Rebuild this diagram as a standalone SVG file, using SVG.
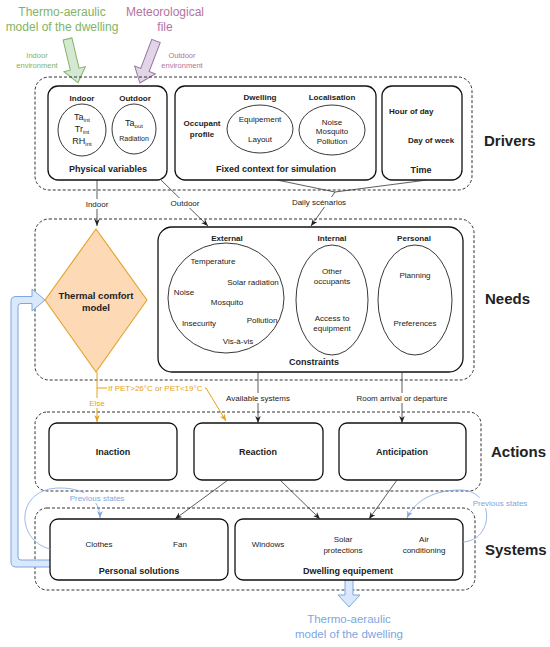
<svg xmlns="http://www.w3.org/2000/svg" width="550" height="647" viewBox="0 0 550 647">
<defs>
<style>
text{font-family:"Liberation Sans",Arial,sans-serif;fill:#222}
.b{font-weight:bold}
.m{text-anchor:middle}
.s8{font-size:8px}
.s7{font-size:7px}
.s9{font-size:9px}
.big{font-size:15px;font-weight:bold}
.cont{fill:none;stroke:#333;stroke-width:1;stroke-dasharray:3 2}
.box{fill:#fff;stroke:#111;stroke-width:1.3}
.ell{fill:#fff;stroke:#222;stroke-width:0.9}
.ln{fill:none;stroke:#333;stroke-width:0.8}
.or{fill:none;stroke:#e6a117;stroke-width:1}
.bl{fill:none;stroke:#7ea6e0;stroke-width:0.8}
.bg{fill:#fff}
</style>
<marker id="ah" viewBox="0 0 10 10" refX="10" refY="5" markerWidth="7" markerHeight="7" orient="auto" markerUnits="userSpaceOnUse"><path d="M0,1 L10,5 L0,9 L3,5 Z" fill="#222"/></marker>
<marker id="ao" viewBox="0 0 10 10" refX="10" refY="5" markerWidth="7" markerHeight="7" orient="auto" markerUnits="userSpaceOnUse"><path d="M0,1 L10,5 L0,9 L3,5 Z" fill="#e6a117"/></marker>
<marker id="ab" viewBox="0 0 10 10" refX="10" refY="5" markerWidth="7" markerHeight="7" orient="auto" markerUnits="userSpaceOnUse"><path d="M0,1 L10,5 L0,9 L3,5 Z" fill="#7ea6e0"/></marker>
</defs>
<rect width="550" height="647" fill="#fff"/>

<g id="inputs">
<text x="62" y="16" class="m" style="font-size:12px;fill:#82b366">Thermo-aeraulic</text>
<text x="62" y="31" class="m" style="font-size:12px;fill:#82b366">model of the dwelling</text>
<text x="165" y="16" class="m" style="font-size:12px;fill:#b5739d">Meteorological</text>
<text x="165" y="31" class="m" style="font-size:12px;fill:#b5739d">file</text>
<text x="37" y="57.5" class="m" style="font-size:7.5px;fill:#82b366">Indoor</text>
<text x="37" y="67.5" class="m" style="font-size:7.5px;fill:#82b366">environment</text>
<text x="182" y="57.5" class="m" style="font-size:7.5px;fill:#b5739d">Outdoor</text>
<text x="182" y="67.5" class="m" style="font-size:7.5px;fill:#b5739d">environment</text>
<polygon transform="translate(67.5,39) rotate(-13.4)" points="-4.5,0 4.5,0 4.5,31 11,31 0,45 -11,31 -4.5,31" fill="#d5e8d4" stroke="#82b366" stroke-width="1"/>
<polygon transform="translate(156,41) rotate(20.9)" points="-4.5,0 4.5,0 4.5,31 11,31 0,45 -11,31 -4.5,31" fill="#e1d5e7" stroke="#9673a6" stroke-width="1"/>
</g>

<g id="containers">
<rect class="cont" x="35" y="77" width="437" height="113" rx="14"/>
<rect class="cont" x="35" y="219" width="439" height="161" rx="14"/>
<rect class="cont" x="35" y="412" width="446" height="79" rx="12"/>
<rect class="cont" x="35" y="508" width="440" height="82" rx="12"/>
<text x="484" y="146" class="big">Drivers</text>
<text x="485" y="304" class="big">Needs</text>
<text x="491" y="457" class="big">Actions</text>
<text x="485" y="555" class="big">Systems</text>
</g>

<g id="feedback">
<path d="M55,560 L21,560 Q18,560 18,557 L18,306.5 Q18,303.5 21,303.5 L32,303.5 L32,311 L45,300 L32,289 L32,296.5 L16,296.5 Q11,296.5 11,301.5 L11,562 Q11,567 16,567 L55,567 Z" fill="#dae8fc" stroke="#7ea6e0" stroke-width="1"/>
<path d="M345,576 L345,595 L338,595 L349,607 L360,595 L353,595 L353,576 Z" fill="#dae8fc" stroke="#7ea6e0" stroke-width="1"/>
<text x="349" y="623" class="m" style="font-size:11.5px;fill:#7ea6e0">Thermo-aeraulic</text>
<text x="349" y="638" class="m" style="font-size:11.5px;fill:#7ea6e0">model of the dwelling</text>
</g>

<g id="physical">
<rect class="box" x="48" y="86" width="119" height="94" rx="10"/>
<text x="82" y="101" class="m b s8">Indoor</text>
<text x="135" y="101" class="m b s8">Outdoor</text>
<ellipse class="ell" cx="82" cy="130" rx="24" ry="26"/>
<ellipse class="ell" cx="134" cy="129" rx="22" ry="25"/>
<text x="82" y="120" class="m s9">Ta<tspan style="font-size:6px" dy="2">int</tspan></text>
<text x="82" y="132" class="m s9">Tr<tspan style="font-size:6px" dy="2">int</tspan></text>
<text x="82" y="144" class="m s9">RH<tspan style="font-size:6px" dy="2">int</tspan></text>
<text x="134" y="126" class="m s9">Ta<tspan style="font-size:6px" dy="2">out</tspan></text>
<text x="134" y="140.5" class="m s7">Radiation</text>
<text x="108" y="172" class="m b s9">Physical variables</text>
</g>

<g id="fixed">
<rect class="box" x="175" y="86" width="201" height="94" rx="10"/>
<text x="260" y="100" class="m b s8">Dwelling</text>
<text x="332" y="100" class="m b s8">Localisation</text>
<text x="202" y="126" class="m b s8">Occupant</text>
<text x="202" y="137" class="m b s8">profile</text>
<ellipse class="ell" cx="260" cy="129" rx="33" ry="24"/>
<text x="260" y="122" class="m s8">Equipement</text>
<text x="260" y="142" class="m s8">Layout</text>
<ellipse class="ell" cx="332" cy="130" rx="33" ry="25"/>
<text x="332" y="124.5" class="m s8">Noise</text>
<text x="332" y="134" class="m s8">Mosquito</text>
<text x="332" y="143.5" class="m s8">Pollution</text>
<text x="276" y="172" class="m b s9">Fixed context for simulation</text>
</g>

<g id="time">
<rect class="box" x="382" y="86" width="80" height="94" rx="10"/>
<text x="389" y="114" class="b s8">Hour of day</text>
<text x="408" y="143" class="b s8">Day of week</text>
<text x="421" y="173" class="m b s9">Time</text>
</g>

<g id="comfort">
<polygon points="96,229 147,300 96,372 45,300" fill="#fdd9b5" stroke="#e3a72f" stroke-width="1.2" stroke-linejoin="round"/>
<text x="96" y="299" class="m b" style="font-size:9.5px">Thermal comfort</text>
<text x="96" y="310.5" class="m b" style="font-size:9.5px">model</text>
</g>

<g id="constraints">
<rect class="box" x="158" y="227" width="305" height="145" rx="14"/>
<text x="227" y="241" class="m b s8">External</text>
<text x="332" y="241" class="m b s8">Internal</text>
<text x="414" y="241" class="m b s8">Personal</text>
<ellipse class="ell" cx="226" cy="298" rx="58" ry="55"/>
<text x="213" y="264" class="m s8">Temperature</text>
<text x="253" y="285" class="m s8">Solar radiation</text>
<text x="184" y="295" class="m s8">Noise</text>
<text x="227" y="305" class="m s8">Mosquito</text>
<text x="199" y="326" class="m s8">Insecurity</text>
<text x="262" y="323" class="m s8">Pollution</text>
<text x="238" y="344" class="m s8">Vis-à-vis</text>
<ellipse class="ell" cx="332" cy="300" rx="36" ry="55"/>
<text x="332" y="274" class="m s8">Other</text>
<text x="332" y="284" class="m s8">occupants</text>
<text x="332" y="321" class="m s8">Access to</text>
<text x="332" y="331" class="m s8">equipment</text>
<ellipse class="ell" cx="415" cy="300" rx="37" ry="55"/>
<text x="415" y="278" class="m s8">Planning</text>
<text x="415" y="326" class="m s8">Preferences</text>
<text x="314" y="365" class="m b s9">Constraints</text>
</g>

<g id="inaction"><rect class="box" x="49" y="423" width="128" height="57" rx="8"/><text x="113" y="455" class="m b s9">Inaction</text></g>
<g id="reaction"><rect class="box" x="194" y="423" width="129" height="57" rx="8"/><text x="258" y="455" class="m b s9">Reaction</text></g>
<g id="anticipation"><rect class="box" x="339" y="423" width="127" height="57" rx="8"/><text x="402" y="455" class="m b s9">Anticipation</text></g>

<g id="personal-solutions">
<rect class="box" x="50" y="519" width="178" height="61" rx="8"/>
<text x="99" y="547" class="m s8">Clothes</text>
<text x="180" y="547" class="m s8">Fan</text>
<text x="139" y="574" class="m b s9">Personal solutions</text>
</g>

<g id="dwelling-equipement">
<rect class="box" x="235" y="519" width="228" height="61" rx="8"/>
<text x="268" y="547" class="m s8">Windows</text>
<text x="343" y="542" class="m s8">Solar</text>
<text x="343" y="553" class="m s8">protections</text>
<text x="424" y="542" class="m s8">Air</text>
<text x="424" y="553" class="m s8">conditioning</text>
<text x="348" y="574" class="m b s9">Dwelling equipement</text>
</g>

<g id="connectors">
<line class="ln" x1="97" y1="180" x2="97" y2="226" marker-end="url(#ah)"/>
<rect class="bg" x="85" y="199" width="24" height="10"/>
<text x="97" y="207" class="m s8">Indoor</text>
<line class="ln" x1="160" y1="179" x2="208" y2="226" marker-end="url(#ah)"/>
<rect class="bg" x="170" y="198" width="30" height="10"/>
<text x="185" y="206" class="m s8">Outdoor</text>
<polyline class="ln" points="277,180 335,192 427,180"/>
<line class="ln" x1="335" y1="192" x2="311" y2="226" marker-end="url(#ah)"/>
<rect class="bg" x="292" y="197" width="54" height="10"/>
<text x="319" y="205" class="m s8">Daily scénarios</text>

<line class="or" x1="97" y1="372" x2="97" y2="422" marker-end="url(#ao)"/>
<polyline class="or" points="97,388 206,388 226,421" marker-end="url(#ao)"/>
<rect class="bg" x="107" y="383" width="98" height="10"/>
<text x="108" y="391" class="s8" style="fill:#e6a117">If PET&gt;26°C or PET&lt;19°C</text>
<rect class="bg" x="89" y="398" width="16" height="10"/>
<text x="97" y="406" class="m s8" style="fill:#e6a117">Else</text>

<line class="ln" x1="258" y1="372" x2="258" y2="423" marker-end="url(#ah)"/>
<rect class="bg" x="225" y="393" width="66" height="10"/>
<text x="258" y="401" class="m s8">Available systems</text>
<line class="ln" x1="402" y1="372" x2="402" y2="423" marker-end="url(#ah)"/>
<rect class="bg" x="354" y="393" width="96" height="10"/>
<text x="402" y="401" class="m s8">Room arrival or departure</text>

<line class="ln" x1="228" y1="480" x2="175" y2="519" marker-end="url(#ah)"/>
<line class="ln" x1="280" y1="480" x2="320" y2="519" marker-end="url(#ah)"/>
<line class="ln" x1="397" y1="480" x2="369" y2="519" marker-end="url(#ah)"/>

<path class="bl" d="M50,549 C15,540 15,488 60,488 C85,488 100,500 100,518" marker-end="url(#ab)"/>
<rect class="bg" x="68" y="493" width="58" height="10"/>
<text x="97" y="501" class="m s8" style="fill:#7ea6e0">Previous states</text>
<path class="bl" d="M463,542 C495,540 495,490 460,490 C435,490 415,500 407,518" marker-end="url(#ab)"/>
<rect class="bg" x="471" y="498" width="58" height="10"/>
<text x="500" y="506" class="m s8" style="fill:#7ea6e0">Previous states</text>
</g>
</svg>
